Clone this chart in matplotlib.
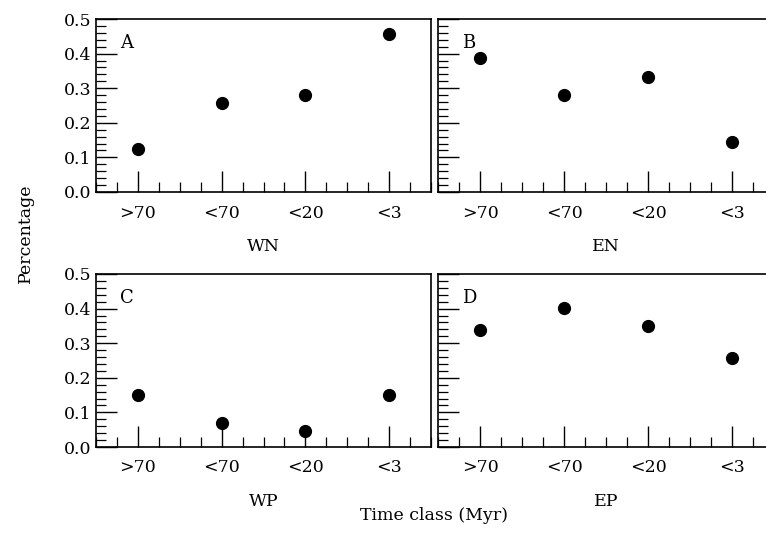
import matplotlib
matplotlib.use("Agg")
import matplotlib.pyplot as plt
from matplotlib.ticker import FixedLocator, MultipleLocator, NullFormatter

plt.rcParams["font.family"] = ["DejaVu Serif"]

time_classes = [">70", "<70", "<20", "<3"]
regions = ["WN", "EN", "WP", "EP"]
panel_letters = ["A", "B", "C", "D"]

wn = [0.125, 0.256, 0.280, 0.458]
en = [0.386, 0.279, 0.332, 0.145]
wp = [0.150, 0.069, 0.047, 0.151]
ep = [0.338, 0.402, 0.351, 0.256]
series = [wn, en, wp, ep]

W, H = 766, 538
fig = plt.figure(figsize=(W / 100, H / 100), dpi=100)

# axes boxes in pixels: left, top, right, bottom
boxes = [
    (96, 19, 431, 192),
    (438, 19, 774, 192),
    (96, 274, 431, 447),
    (438, 274, 774, 447),
]

x = list(range(1, len(time_classes) + 1))

for i, (l, t, r, b) in enumerate(boxes):
    ax = fig.add_axes([l / W, (H - b) / H, (r - l) / W, (b - t) / H])
    ax.plot(x, series[i], "o", color="black", markersize=8.5)
    ax.set_xlim(0.5, 4.5)
    ax.set_ylim(0, 0.5)

    ax.xaxis.set_major_locator(FixedLocator(x))
    ax.set_xticklabels(time_classes)
    ax.xaxis.set_minor_locator(MultipleLocator(0.25))
    ax.yaxis.set_major_locator(MultipleLocator(0.1))
    ax.yaxis.set_minor_locator(MultipleLocator(0.02))
    ax.yaxis.set_major_formatter(plt.FormatStrFormatter("%.1f"))

    ax.tick_params(which="major", direction="in", length=15, width=1.0,
                   labelsize=12.5, top=False, right=False)
    ax.tick_params(which="minor", direction="in", length=7.2, width=0.9,
                   top=False, right=False)
    ax.tick_params(axis="x", which="major", pad=9)
    ax.tick_params(axis="y", which="major", pad=3)
    if i % 2 == 1:
        ax.yaxis.set_major_formatter(NullFormatter())

    for s in ax.spines.values():
        s.set_linewidth(1.2)

    ax.set_xlabel(regions[i], fontsize=12.5, labelpad=12)
    ax.text(24 / (r - l), 1 - 24 / (b - t), panel_letters[i],
            transform=ax.transAxes, fontsize=13, ha="left", va="center")

fig.text(25 / W, 1 - 233 / H, "Percentage", rotation=90, fontsize=12.5,
         ha="center", va="center")
fig.text(434 / W, 1 - 515 / H, "Time class (Myr)", fontsize=12.5,
         ha="center", va="center")

fig.savefig("out.png", dpi=100)
